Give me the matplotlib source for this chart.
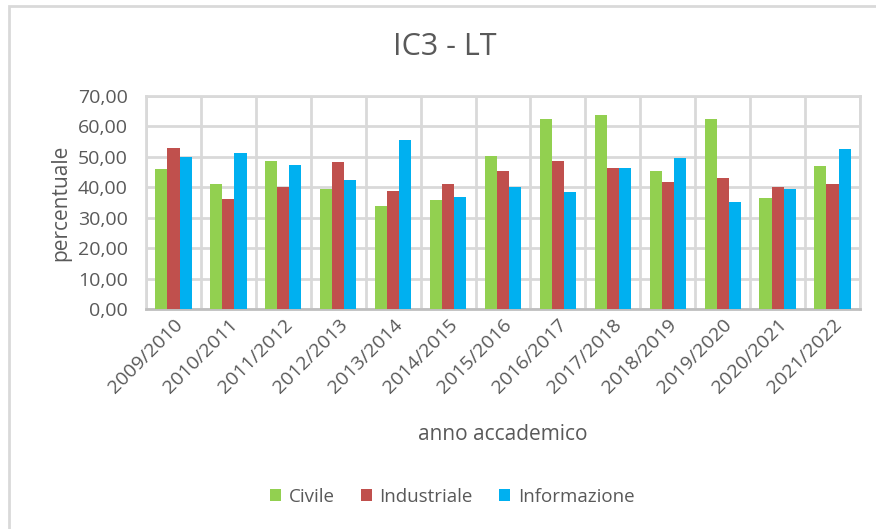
import numpy as np
import matplotlib
matplotlib.use("Agg")
import matplotlib.pyplot as plt
from matplotlib.patches import Rectangle

# dati
anni = ["2009/2010", "2010/2011", "2011/2012", "2012/2013", "2013/2014",
        "2014/2015", "2015/2016", "2016/2017", "2017/2018", "2018/2019",
        "2019/2020", "2020/2021", "2021/2022"]
civile = [45.9, 41.0, 48.5, 39.6, 33.8, 35.7, 50.4, 62.4, 63.9, 45.4, 62.4, 36.5, 47.0]
industriale = [53.0, 36.2, 40.0, 48.2, 38.8, 41.1, 45.4, 48.5, 46.2, 41.9, 43.1, 40.0, 41.1]
informazione = [50.0, 51.3, 47.3, 42.3, 55.4, 36.9, 40.0, 38.5, 46.5, 49.7, 35.3, 39.6, 52.7]
serie = ["Civile", "Industriale", "Informazione"]
colori = ["#92d050", "#c0504d", "#00b0f0"]

plt.rcParams['font.family'] = ['Open Sans', 'DejaVu Sans']
testo = "#595959"
griglia = "#d9d9d9"

fig = plt.figure(figsize=(8.76, 5.29), dpi=100)
# cornice esterna (tagliata a destra e in basso)
fig.patches.append(Rectangle((9/876, -0.05), 1.1, 1 - 6/529 + 0.05, transform=fig.transFigure,
                             fill=False, edgecolor=griglia, linewidth=2))

ax = fig.add_axes([146/876, 1 - 309/529, (860 - 146)/876, (309 - 96)/529])

x = np.arange(len(anni))
w = 0.22
for i, (vals, nome, col) in enumerate(zip([civile, industriale, informazione], serie, colori)):
    ax.bar(x + (i - 1) * w, vals, width=w, color=col, label=nome, zorder=3)

ax.set_xlim(-0.5, len(anni) - 0.5)
ax.set_ylim(0, 70)
ax.set_yticks(np.arange(0, 71, 10))
ax.set_yticklabels([f"{v:.2f}".replace(".", ",") for v in np.arange(0, 71, 10)])
ax.set_xticks(x)
ax.set_xticklabels(anni, rotation=45, ha="right", rotation_mode="anchor")
ax.set_xticks(np.arange(-0.5, len(anni), 1), minor=True)
ax.grid(which="minor", axis="x", color=griglia, linewidth=2, zorder=0)
ax.grid(which="major", axis="y", color=griglia, linewidth=2, zorder=0)
ax.tick_params(axis="both", which="both", length=0, labelsize=14, colors=testo)
ax.tick_params(axis="x", pad=5)
ax.tick_params(axis="y", pad=13)
for s in ax.spines.values():
    s.set_color(griglia)
    s.set_linewidth(2)
ax.spines["bottom"].set_color("#bfbfbf")

ax.set_ylabel("percentuale", fontsize=15, color=testo, labelpad=5)
fig.text(503/876, 1 - 435/529, "anno accademico", ha="center", va="center", fontsize=15, color=testo)
fig.text(445/876, 1 - 47/529, "IC3 - LT", ha="center", va="center", fontsize=22, color=testo)

fig.legend(loc="center", bbox_to_anchor=(452/876, 1 - 497/529), ncol=3, frameon=False,
           fontsize=13.5, labelcolor=testo, handlelength=0.6, handleheight=0.6,
           handletextpad=0.4, columnspacing=1.4)

fig.savefig("out.png", dpi=100)
